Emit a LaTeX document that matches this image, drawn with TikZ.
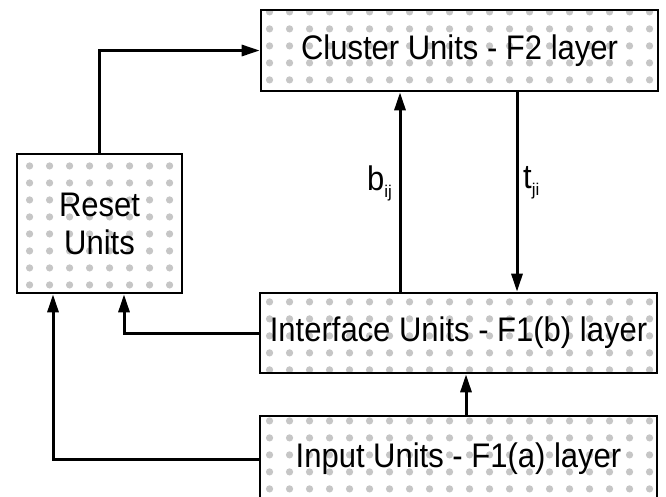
\documentclass[tikz,border=0pt]{standalone}
\usepackage{fontspec}
\setmainfont{Liberation Sans}
\usetikzlibrary{arrows.meta,patterns.meta}
\tikzdeclarepattern{
  name=blobs, type=uncolored,
  bounding box={(0pt,0pt) and (20pt,17pt)},
  tile size={(20pt,17pt)},
  code={
    \fill (10pt,8.5pt) circle (3.8pt);
  }
}
\newcommand\tallt[1]{\scalebox{1}[1.1]{#1}}
\tikzset{
  unitbox/.style={draw=black, line width=2.6pt, rectangle, inner sep=0pt,
    pattern={blobs}, pattern color=gray!45,
    font=\fontsize{31}{38}\selectfont, align=center},
  conn/.style={line width=3pt, -{Triangle[length=18pt,width=11pt]}},
  lbl/.style={font=\fontsize{31}{38}\selectfont, inner sep=0pt}
}
\begin{document}
\begin{tikzpicture}[x=1pt,y=-1pt]
\useasboundingbox (0,0) rectangle (666,496);
\node[unitbox, minimum width=397pt, minimum height=81pt] (cluster) at (459.5,50.5) {\raisebox{-4pt}{\tallt{Cluster Units - F2 layer}}};
\node[unitbox, minimum width=165pt, minimum height=139pt] (reset) at (99.5,223.5) {\tallt{Reset}\\\tallt{Units}};
\node[unitbox, minimum width=397pt, minimum height=80pt] (interface) at (458.5,333) {\tallt{Interface Units - F1(b) layer}};
\node[unitbox, minimum width=397pt, minimum height=86pt] (input) at (458.5,459) {\tallt{Input Units - F1(a) layer}};
\coordinate (bx) at (400,0);
\coordinate (tx) at (517,0);
\coordinate (ix) at (466,0);
\coordinate (r1) at (53,0);
\coordinate (r2) at (124,0);
\draw[conn] (reset.north) |- (cluster.west);
\draw[conn] (interface.north -| bx) -- (cluster.south -| bx);
\draw[conn] (cluster.south -| tx) -- (interface.north -| tx);
\draw[conn] (input.north -| ix) -- (interface.south -| ix);
\draw[conn] (interface.west) -| (reset.south -| r2);
\draw[conn] (input.west) -| (reset.south -| r1);
\node[lbl, anchor=east] (blbl) at (392,183) {\tallt{b}\raisebox{-7pt}{\fontsize{17}{17}\selectfont ij}};
\node[lbl, anchor=west] (tlbl) at (523,183) {\tallt{t}\raisebox{-7pt}{\fontsize{17}{17}\selectfont ji}};
\end{tikzpicture}
\end{document}
